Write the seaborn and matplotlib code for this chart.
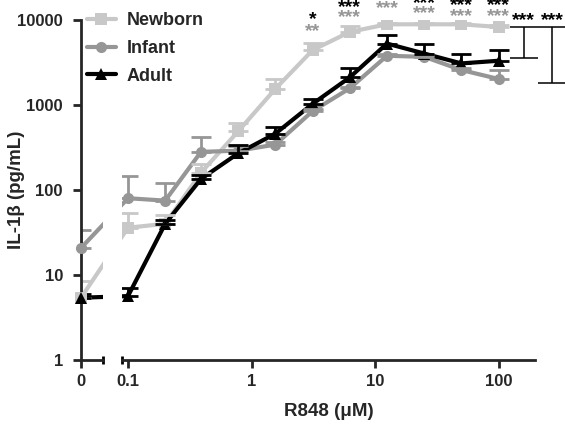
import numpy as np
import pandas as pd
import matplotlib
matplotlib.use("Agg")
import matplotlib.pyplot as plt
from matplotlib.lines import Line2D
from matplotlib.ticker import NullLocator
import seaborn as sns

# ---------------- data ----------------
conc = [0, 0.1, 0.2, 0.39, 0.78, 1.56, 3.125, 6.25, 12.5, 25, 50, 100]
groups = ["Newborn", "Infant", "Adult"]
newborn = [5.4, 36, 40, 160, 490, 1550, 4420, 7240, 8900, 8900, 8900, 8280]
newborn_top = [8.4, 54, 51, 205, 615, 2025, 5430, 8510, 9300, 9300, 9300, 8700]
infant = [20.8, 80, 75, 281, 290, 342, 847, 1573, 3795, 3690, 2580, 2025]
infant_top = [34, 146, 120, 420, 330, 370, 900, 1650, 3950, 3850, 2700, 2580]
adult = [5.4, 5.65, 40, 135, 270, 460, 1032, 2115, 5280, 4035, 3085, 3315]
adult_top = [6.0, 7.1, 44, 150, 336, 550, 1181, 2700, 6620, 5190, 3965, 4420]

star_conc = [3.125, 6.25, 12.5, 25, 50, 100]
gray_stars = ["**", "***", "***", "***", "***", "***"]
gray_star_y = [6430, 9470, 11920, 10640, 9730, 9730]
black_stars = ["*", "***", "***", "***", "***", "***"]
black_star_y = [9040, 12420, 15850, 13840, 13000, 13000]

bracket_x = [160, 271]
bracket_hi = [8280, 8280]
bracket_lo = [3530, 1800]
bracket_labels = ["***", "***"]
bracket_star_y = [8660, 8660]

xtick_vals = [0.1, 1, 10, 100]
xtick_labels = ["0.1", "1", "10", "100"]
ytick_vals = [1, 10, 100, 1000, 10000]
ytick_labels = ["1", "10", "100", "1000", "10000"]

# ---------------- style ----------------
sns.set_style("ticks")
plt.rcParams['font.family'] = ['Liberation Sans', 'DejaVu Sans']
plt.rcParams['font.weight'] = 'bold'
plt.rcParams['axes.linewidth'] = 2.0

colors = {"Newborn": "#c8c8c8", "Infant": "#969696", "Adult": "#000000"}
markers = {"Newborn": "s", "Infant": "o", "Adult": "^"}
means = {"Newborn": newborn, "Infant": infant, "Adult": adult}
tops = {"Newborn": newborn_top, "Infant": infant_top, "Adult": adult_top}

W, H = 565, 426
PX_DEC = 123.5
X01 = 128
LW = 3.0
MS = 8


def xval(px):
    return 0.1 * 10 ** ((px - X01) / PX_DEC)


ZERO_POS = xval(81)

df = pd.DataFrame({
    "conc": conc * 3,
    "value": newborn + infant + adult,
    "group": sum([[g] * len(conc) for g in groups], []),
})
df["pos"] = np.where(df["conc"] == 0, ZERO_POS, df["conc"])

fig = plt.figure(figsize=(W / 100, H / 100), dpi=100)
bottom = 1 - 360 / H
height = 340 / H
ax0 = fig.add_axes([81 / W, bottom, 22 / W, height])
ax1 = fig.add_axes([122 / W, bottom, 413 / W, height], sharey=ax0)

for ax in (ax0, ax1):
    ax.set_xscale("log")
    ax.set_yscale("log")

ax0.set_ylim(1, 10000)
ax0.set_xlim(ZERO_POS, xval(103))
ax1.set_xlim(xval(122), xval(535))

for ax in (ax0, ax1):
    sns.lineplot(data=df, x="pos", y="value", hue="group", style="group",
                 hue_order=groups, style_order=groups, palette=colors,
                 markers=markers, dashes=False, estimator=None, sort=True,
                 lw=LW, ms=MS, mew=0, legend=False, ax=ax)
    for g in groups:
        pos = np.array([ZERO_POS if c == 0 else c for c in conc])
        m = np.array(means[g])
        t = np.array(tops[g])
        ax.errorbar(pos, m, yerr=[np.zeros_like(m), t - m], fmt="none",
                    ecolor=colors[g], elinewidth=2, capsize=7, capthick=2)

# full markers at the zero point (not clipped)
for g in groups:
    ax0.plot([ZERO_POS], [means[g][0]], marker=markers[g], ms=MS, mew=0,
             color=colors[g], ls="none", clip_on=False, zorder=5)

# ticks
ax0.set_xticks([ZERO_POS])
ax0.set_xticklabels(["0"])
ax1.set_xticks(xtick_vals)
ax1.set_xticklabels(xtick_labels)
ax0.set_yticks(ytick_vals)
ax0.set_yticklabels(ytick_labels)
for ax in (ax0, ax1):
    ax.xaxis.set_minor_locator(NullLocator())
    ax.yaxis.set_minor_locator(NullLocator())
    ax.tick_params(length=6, width=2, labelsize=12, pad=4)
    ax.spines["top"].set_visible(False)
    ax.spines["right"].set_visible(False)
    ax.set_xlabel("")
    ax.set_ylabel("")
ax0.tick_params(axis="y", pad=7)
ax1.spines["left"].set_visible(False)
ax1.tick_params(axis="y", left=False, labelleft=False)
for lab in ax0.get_xticklabels() + ax1.get_xticklabels() + ax0.get_yticklabels():
    lab.set_fontweight("bold")

# break ticks
ax0.plot([1, 1], [-0.012, 0.012], transform=ax0.transAxes, color="black",
         lw=2, clip_on=False, solid_capstyle="butt")
ax1.plot([0, 0], [-0.012, 0.012], transform=ax1.transAxes, color="black",
         lw=2, clip_on=False, solid_capstyle="butt")

# labels
ax1.set_xlabel("R848 (\u03bcM)", fontsize=13.5, fontweight="bold", labelpad=10)
ax0.set_ylabel("IL-1\u03b2 (pg/mL)", fontsize=13.5, fontweight="bold")
ax0.yaxis.set_label_coords(-2.55, 0.5)

# significance stars
for x, s, y in zip(star_conc, gray_stars, gray_star_y):
    ax1.text(x, y, s, ha="center", va="baseline", color=colors["Infant"],
             fontsize=14, fontweight="bold")
for x, s, y in zip(star_conc, black_stars, black_star_y):
    ax1.text(x, y, s, ha="center", va="baseline", color="black",
             fontsize=14, fontweight="bold")

# brackets
for x, hi, lo, s, ys in zip(bracket_x, bracket_hi, bracket_lo,
                            bracket_labels, bracket_star_y):
    cont = ax1.errorbar([x], [hi], yerr=[[hi - lo], [0]], fmt="none",
                        ecolor="black", elinewidth=1.1, capsize=10, capthick=1.1)
    for a in list(cont.lines[1]) + list(cont.lines[2]):
        a.set_clip_on(False)
    ax1.text(x, ys, s, ha="center", va="baseline", color="black",
             fontsize=14, fontweight="bold", clip_on=False)

# legend
handles = [Line2D([], [], color=colors[g], marker=markers[g], lw=LW, ms=MS, mew=0)
           for g in groups]
fig.legend(handles, groups, loc="upper left", bbox_to_anchor=(87 / W, 1 - 12 / H),
           frameon=False, borderpad=0, borderaxespad=0, handlelength=1.6,
           handletextpad=0.6, labelspacing=0.6,
           prop=dict(weight="bold", size=13))

fig.savefig("out.png", dpi=100)
